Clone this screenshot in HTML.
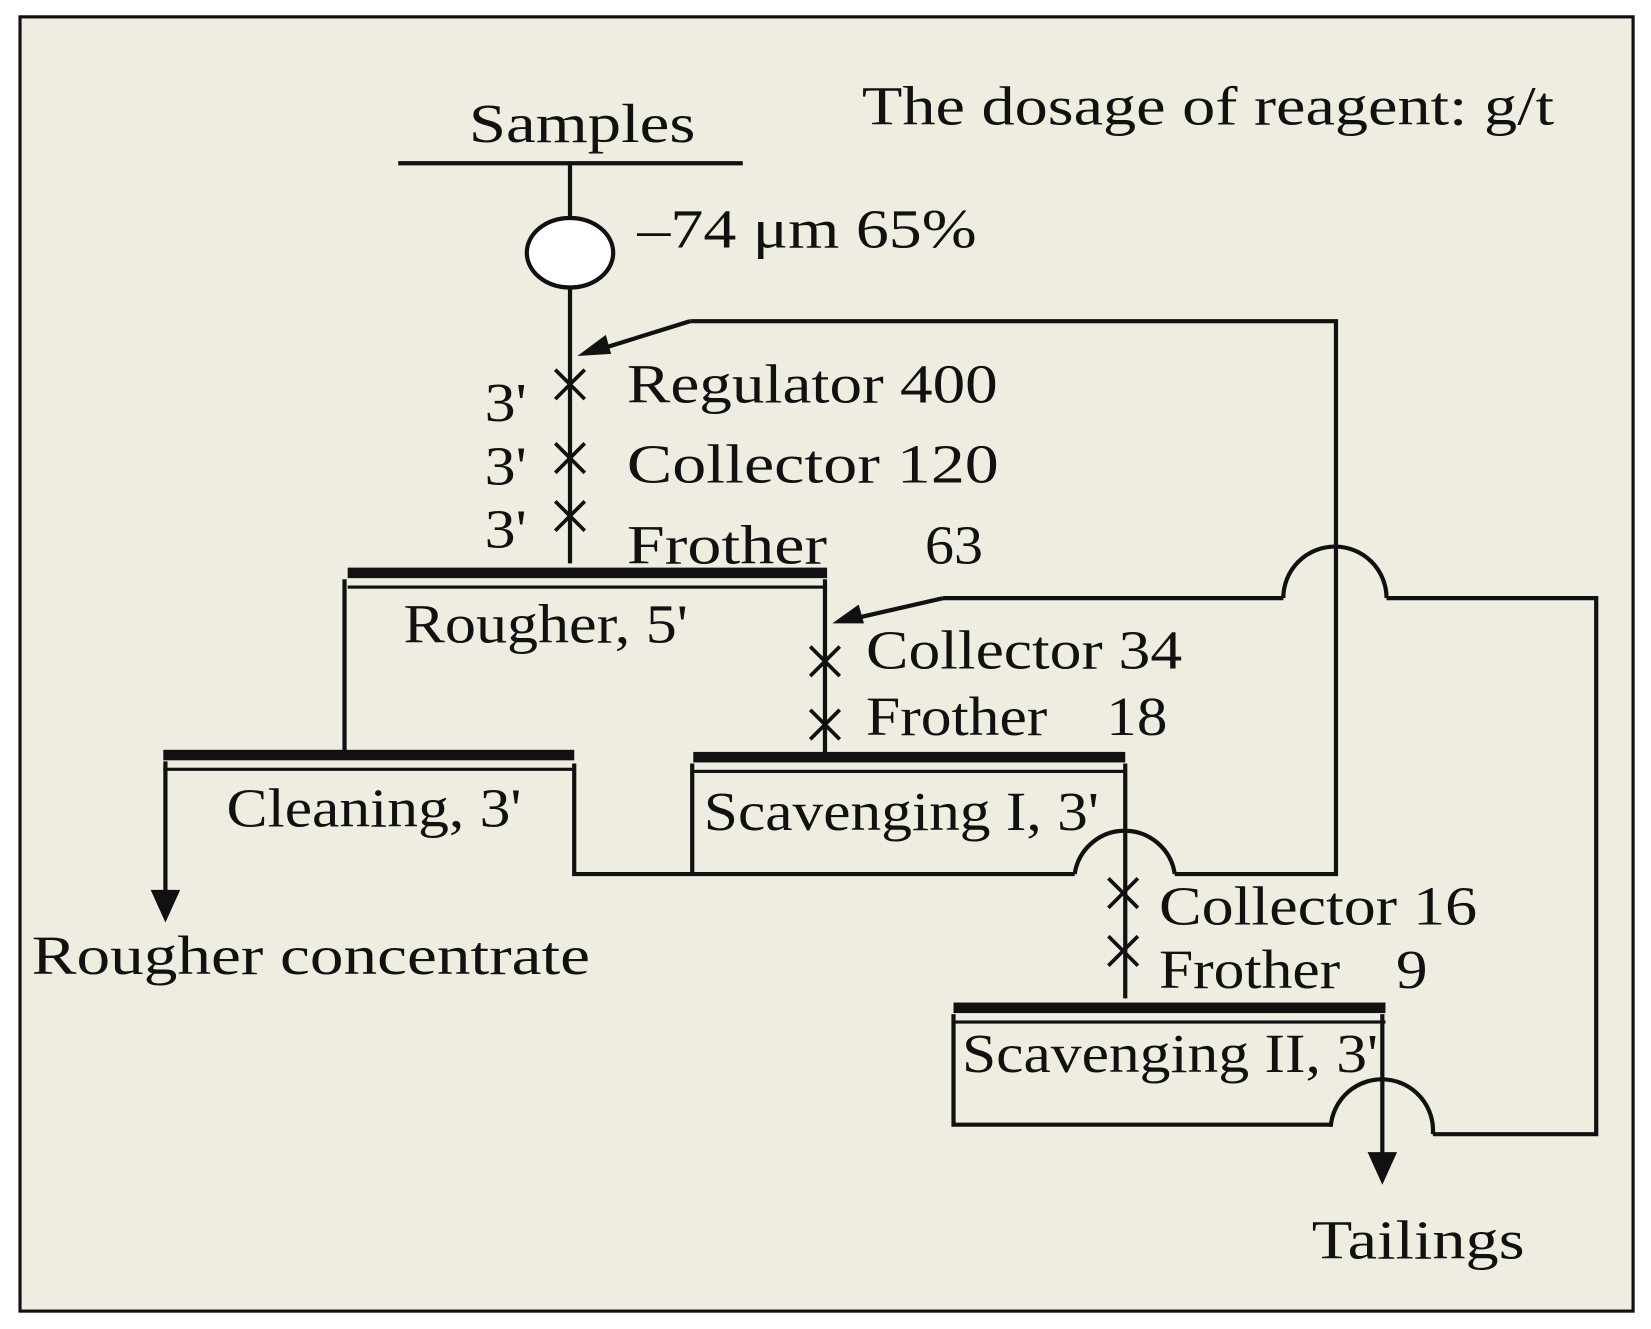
<!DOCTYPE html>
<html><head><meta charset="utf-8"><style>
html,body{margin:0;padding:0;background:#fff;}
svg{display:block;}
text{font-family:"Liberation Serif","Times New Roman",serif;fill:#111;font-size:52px;}
</style></head><body>
<svg width="1651" height="1329" viewBox="0 0 1567 1262" preserveAspectRatio="none" xmlns="http://www.w3.org/2000/svg">
<rect x="0" y="0" width="1567" height="1262" fill="#fff"/>
<rect x="19" y="16" width="1531" height="1229" fill="#efece2" stroke="#111" stroke-width="3"/>
<g stroke="#111" stroke-width="4" fill="none">
<line x1="378" y1="155" x2="705" y2="155"/>
<line x1="541" y1="155" x2="541" y2="207"/>
<line x1="541" y1="273" x2="541" y2="535"/>
<ellipse cx="541" cy="240" rx="41" ry="33" fill="#fff"/>
<line x1="655" y1="305" x2="565" y2="333"/>
<polyline points="655,305 1268,305 1268,830 1115,830"/>
<path d="M1115,830 A48,48 0 0 0 1020,830"/>
<polyline points="1020,830 545,830 545,725"/>
<line x1="657" y1="830" x2="657" y2="725"/>
<line x1="327" y1="550" x2="327" y2="715"/>
<line x1="783" y1="550" x2="783" y2="715"/>
<line x1="895" y1="568" x2="808" y2="588"/>
<line x1="895" y1="568" x2="1218" y2="568"/>
<path d="M1218,568 A49,49 0 0 1 1316,568"/>
<polyline points="1316,568 1515,568 1515,1077 1360,1077"/>
<path d="M1360,1077 A48,48 0 0 0 1263,1070"/>
<polyline points="905,963 905,1068 1263,1068"/>
<line x1="157" y1="723" x2="157" y2="848"/>
<line x1="1068" y1="725" x2="1068" y2="948"/>
<line x1="1312" y1="963" x2="1312" y2="1098"/>
</g>
<g fill="#111">
<polygon points="548,338 575,318 580,336"/>
<polygon points="790,592 815,574 820,592"/>
<polygon points="157,876 143,845 171,845"/>
<polygon points="1312,1125 1298,1094 1326,1094"/>
<rect x="330" y="539" width="455" height="10"/>
<rect x="330" y="556" width="455" height="3"/>
<rect x="155" y="712" width="390" height="10"/>
<rect x="155" y="729" width="390" height="3"/>
<rect x="658" y="714" width="410" height="10"/>
<rect x="658" y="731" width="410" height="3"/>
<rect x="905" y="952" width="410" height="10"/>
<rect x="905" y="969" width="410" height="3"/>
</g>
<g stroke="#111" stroke-width="3.5" fill="none">
<path d="M527,351 L555,379 M555,351 L527,379"/>
<path d="M527,421 L555,449 M555,421 L527,449"/>
<path d="M527,476 L555,504 M555,476 L527,504"/>
<path d="M769,614 L797,642 M797,614 L769,642"/>
<path d="M769,674 L797,702 M797,674 L769,702"/>
<path d="M1052,834 L1080,862 M1080,834 L1052,862"/>
<path d="M1052,889 L1080,917 M1080,889 L1052,917"/>
</g>
<text x="818" y="118" textLength="657" lengthAdjust="spacingAndGlyphs">The dosage of reagent: g/t</text>
<text x="445" y="135" textLength="215" lengthAdjust="spacingAndGlyphs">Samples</text>
<text x="605" y="235" textLength="322" lengthAdjust="spacingAndGlyphs">–74 μm 65%</text>
<text x="595" y="382" textLength="352" lengthAdjust="spacingAndGlyphs">Regulator 400</text>
<text x="595" y="458" textLength="353" lengthAdjust="spacingAndGlyphs">Collector  120</text>
<text x="595" y="535" textLength="190" lengthAdjust="spacingAndGlyphs">Frother</text>
<text x="878" y="535" textLength="55" lengthAdjust="spacingAndGlyphs">63</text>
<text x="460" y="400" textLength="40" lengthAdjust="spacingAndGlyphs">3'</text>
<text x="460" y="460" textLength="40" lengthAdjust="spacingAndGlyphs">3'</text>
<text x="460" y="520" textLength="40" lengthAdjust="spacingAndGlyphs">3'</text>
<text x="383" y="610" textLength="270" lengthAdjust="spacingAndGlyphs">Rougher, 5'</text>
<text x="822" y="635" textLength="300" lengthAdjust="spacingAndGlyphs">Collector  34</text>
<text x="822" y="698" textLength="172" lengthAdjust="spacingAndGlyphs">Frother</text>
<text x="1050" y="698" textLength="58" lengthAdjust="spacingAndGlyphs">18</text>
<text x="215" y="785" textLength="280" lengthAdjust="spacingAndGlyphs">Cleaning, 3'</text>
<text x="668" y="788" textLength="375" lengthAdjust="spacingAndGlyphs">Scavenging  I, 3'</text>
<text x="30" y="925" textLength="530" lengthAdjust="spacingAndGlyphs">Rougher concentrate</text>
<text x="1100" y="878" textLength="302" lengthAdjust="spacingAndGlyphs">Collector  16</text>
<text x="1100" y="938" textLength="172" lengthAdjust="spacingAndGlyphs">Frother</text>
<text x="1325" y="938" textLength="30" lengthAdjust="spacingAndGlyphs">9</text>
<text x="913" y="1018" textLength="395" lengthAdjust="spacingAndGlyphs">Scavenging  II, 3'</text>
<text x="1245" y="1195" textLength="202" lengthAdjust="spacingAndGlyphs">Tailings</text>
</svg>
</body></html>
